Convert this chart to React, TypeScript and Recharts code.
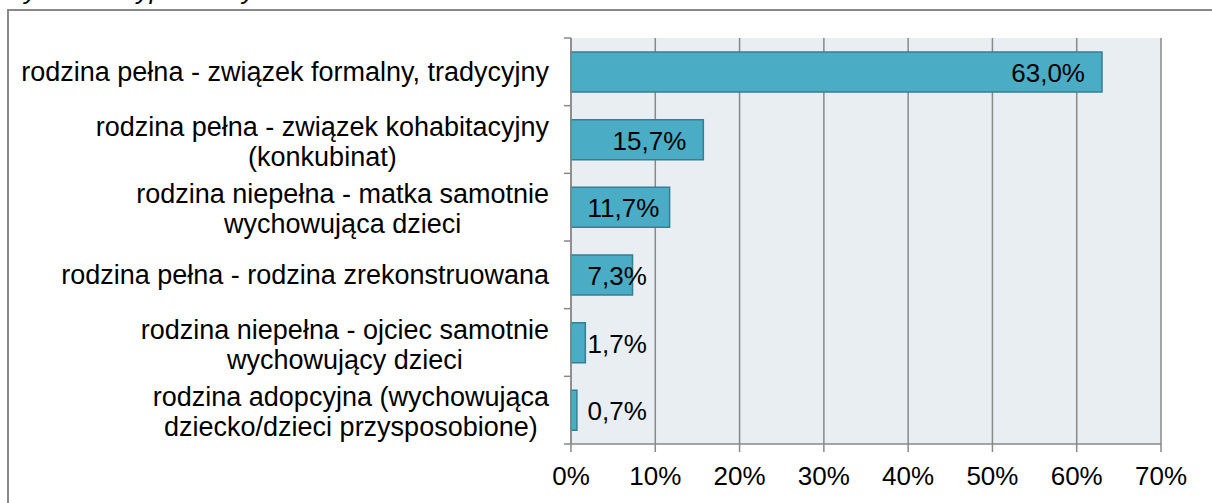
import React from 'react';
import { BarChart, Bar, XAxis, YAxis, CartesianGrid, LabelList } from 'recharts';

const categories: string[] = [
  'rodzina pełna - związek formalny, tradycyjny',
  'rodzina pełna - związek kohabitacyjny\n(konkubinat)',
  'rodzina niepełna - matka samotnie\nwychowująca dzieci',
  'rodzina pełna - rodzina zrekonstruowana',
  'rodzina niepełna - ojciec samotnie\nwychowujący dzieci',
  'rodzina adopcyjna (wychowująca\ndziecko/dzieci przysposobione)',
];
const values: number[] = [63.0, 15.7, 11.7, 7.3, 1.7, 0.7];
const xTicks: number[] = [0, 10, 20, 30, 40, 50, 60, 70];
const title = 'Wykres 1. Typ rodziny';

const data = categories.map((c, i) => ({ name: c, value: values[i] }));

const FONT = '"Liberation Sans", Arial, sans-serif';
const W = 1212;
const H = 503;
const M = { top: 38, right: 51, left: 0, bottom: 19 };
const X_AXIS_H = 40;
const Y_AXIS_W = 571;
const PLOT_H = H - M.top - M.bottom - X_AXIS_H;
const BAND = PLOT_H / categories.length;
const GRAY = '#898989';

let ctx: CanvasRenderingContext2D | null = null;
function measure(text: string, size: number): number {
  if (!ctx) {
    const c = document.createElement('canvas');
    ctx = c.getContext('2d');
  }
  if (!ctx) return text.length * size * 0.5;
  ctx.font = `${size}px "Liberation Sans", Arial`;
  return ctx.measureText(text).width;
}

const CatTick = (props: any) => {
  const { x, y, payload, index } = props;
  const lines: string[] = String(payload.value).split('\n');
  const size = 27;
  const lh = 30;
  const maxW = Math.max(...lines.map((l) => measure(l, size)));
  const right = x - 22;
  const cx = right - maxW / 2;
  const startY = y - ((lines.length - 1) * lh) / 2 + 9 + (lines.length > 1 ? 2 : 0);
  return (
    <g>
      <line x1={x - 7} x2={x} y1={y - BAND / 2} y2={y - BAND / 2} stroke={GRAY} strokeWidth={1.5} />
      {index === categories.length - 1 && (
        <line x1={x - 7} x2={x} y1={y + BAND / 2} y2={y + BAND / 2} stroke={GRAY} strokeWidth={1.5} />
      )}
      {lines.map((l, i) => (
        <text key={i} x={cx} y={startY + i * lh} textAnchor="middle" fontSize={size} fontFamily={FONT} fill="#000">
          {l}
        </text>
      ))}
    </g>
  );
};

const ValueLabel = (props: any) => {
  const { x, y, width, height, value } = props;
  const size = 26;
  const txt = `${Number(value).toFixed(1).replace('.', ',')}%`;
  const tw = measure(txt, size);
  const left = Math.max(x + 16.5, x + width - 17 - tw);
  return (
    <text x={left} y={y + height / 2 + 10} textAnchor="start" fontSize={size} fontFamily={FONT} fill="#000">
      {txt}
    </text>
  );
};

export default function App() {
  return (
    <div style={{ position: 'absolute', left: 0, top: 0, width: W, height: H, overflow: 'hidden', background: '#fff' }}>
      <div
        style={{
          position: 'absolute',
          left: 7,
          top: 9,
          width: W + 50,
          height: H + 50,
          borderTop: `2px solid ${GRAY}`,
          borderLeft: `2px solid ${GRAY}`,
          boxSizing: 'border-box',
        }}
      />
      <div
        style={{
          position: 'absolute',
          left: 0,
          top: -25,
          fontFamily: FONT,
          fontStyle: 'italic',
          fontSize: 26,
          lineHeight: '30px',
          whiteSpace: 'nowrap',
          color: '#000',
        }}
      >
        {title}
      </div>
      <div style={{ position: 'absolute', left: 0, top: 0 }}>
        <BarChart width={W} height={H} data={data} layout="vertical" margin={M} barSize={40}>
          <CartesianGrid horizontal={false} vertical stroke={GRAY} strokeWidth={1.5} fill="#E8EEF2" />
          <XAxis
            type="number"
            domain={[0, 70]}
            ticks={xTicks}
            tickFormatter={(v: number) => `${v}%`}
            axisLine={{ stroke: GRAY, strokeWidth: 1.5 }}
            tickLine={{ stroke: GRAY, strokeWidth: 1.5 }}
            tickSize={8}
            tickMargin={15}
            height={X_AXIS_H}
            tick={{ fontSize: 26, fontFamily: FONT, fill: '#000' }}
            interval={0}
          />
          <YAxis
            type="category"
            dataKey="name"
            width={Y_AXIS_W}
            axisLine={{ stroke: GRAY, strokeWidth: 1.5 }}
            tickLine={false}
            tickSize={0}
            tickMargin={0}
            tick={<CatTick />}
            interval={0}
          />
          <Bar dataKey="value" fill="#4BACC6" stroke="#357F93" strokeWidth={1.5} isAnimationActive={false}>
            <LabelList dataKey="value" content={<ValueLabel />} />
          </Bar>
        </BarChart>
      </div>
    </div>
  );
}
